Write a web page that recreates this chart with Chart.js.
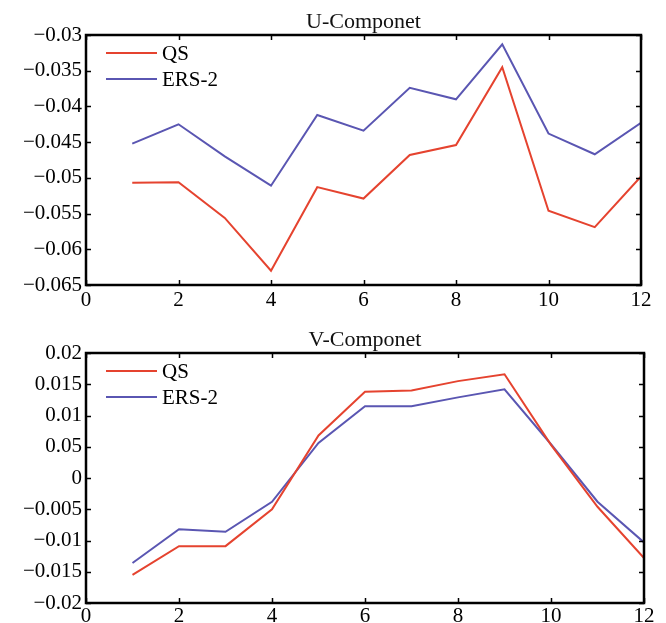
<!DOCTYPE html>
<html>
<head>
<meta charset="utf-8">
<script src="https://cdn.jsdelivr.net/npm/chart.js@4/dist/chart.umd.min.js"></script>
<style>
  html, body { margin: 0; padding: 0; background: #fff; }
  #wrap { position: relative; width: 666px; height: 623px; }
  #wrap canvas { position: absolute; left: 0; }
</style>
</head>
<body>
<div id="wrap">
  <canvas id="uChart" width="666" height="312" style="top:0"></canvas>
  <canvas id="vChart" width="666" height="311" style="top:312px"></canvas>
</div>
<script>
const months = [1, 2, 3, 4, 5, 6, 7, 8, 9, 10, 11, 12];

// U component
const uQS = [-0.0507, -0.0506, -0.0556, -0.0630, -0.0513, -0.0529, -0.0468, -0.0454, -0.0345, -0.0546, -0.0569, -0.0498];
const uERS = [-0.0452, -0.0425, -0.0470, -0.0511, -0.0412, -0.0434, -0.0374, -0.0390, -0.0313, -0.0438, -0.0467, -0.0423];
const uTickLabels = ["\u22120.065", "\u22120.06", "\u22120.055", "\u22120.05", "\u22120.045", "\u22120.04", "\u22120.035", "\u22120.03"];

// V component
const vQS = [-0.0155, -0.0109, -0.0109, -0.0050, 0.0068, 0.0138, 0.0140, 0.0155, 0.0166, 0.0053, -0.0046, -0.0128];
const vERS = [-0.0136, -0.0082, -0.0086, -0.0038, 0.0056, 0.0115, 0.0115, 0.0129, 0.0142, 0.0054, -0.0038, -0.0103];
const vTickLabels = ["\u22120.02", "\u22120.015", "\u22120.01", "\u22120.005", "0", "0.05", "0.01", "0.015", "0.02"];

const xTickLabels = ["0", "2", "4", "6", "8", "10", "12"];

const RED = "#e5432f";
const BLUE = "#5a56b2";
const FONT = "'Liberation Serif', 'DejaVu Serif', serif";

// box around the plot area with short ticks pointing inwards, title over the box, inset legend
const framePlugin = {
  id: "frame",
  afterDraw(chart, args, opts) {
    const { ctx, chartArea: a, scales } = chart;
    ctx.save();
    ctx.strokeStyle = "#000";
    ctx.lineWidth = 1.5;
    const len = 5;
    ctx.beginPath();
    scales.x.ticks.forEach((t) => {
      const px = Math.round(scales.x.getPixelForValue(t.value)) + 0.5;
      ctx.moveTo(px, a.bottom); ctx.lineTo(px, a.bottom - len);
      ctx.moveTo(px, a.top); ctx.lineTo(px, a.top + len);
    });
    scales.y.ticks.forEach((t) => {
      const py = Math.round(scales.y.getPixelForValue(t.value)) + 0.5;
      ctx.moveTo(a.left, py); ctx.lineTo(a.left + len, py);
      ctx.moveTo(a.right, py); ctx.lineTo(a.right - len, py);
    });
    ctx.stroke();
    ctx.lineWidth = 2.5;
    ctx.strokeRect(a.left, a.top, a.right - a.left, a.bottom - a.top);

    // title
    ctx.fillStyle = "#111";
    ctx.font = "22px " + FONT;
    ctx.textAlign = "center";
    ctx.textBaseline = "alphabetic";
    ctx.fillText(opts.text, (a.left + a.right) / 2, a.top - opts.titleGap);

    // legend
    const rows = [18, 44];
    ctx.font = "21px " + FONT;
    ctx.textAlign = "left";
    ctx.textBaseline = "middle";
    ctx.fillStyle = "#000";
    chart.data.datasets.forEach((ds, i) => {
      const y = a.top + rows[i];
      ctx.strokeStyle = ds.borderColor;
      ctx.lineWidth = 2;
      ctx.beginPath();
      ctx.moveTo(a.left + 20, y);
      ctx.lineTo(a.left + 71, y);
      ctx.stroke();
      ctx.fillText(ds.label, a.left + 76, y + 1);
    });
    ctx.restore();
  },
};

function makeChart(id, title, qs, ers, yMin, yMax, yLabels, opts) {
  const toPoints = (arr) => months.map((m, i) => ({ x: m, y: arr[i] }));
  return new Chart(document.getElementById(id), {
    type: "line",
    data: {
      datasets: [
        { label: "QS", data: toPoints(qs), borderColor: RED, borderWidth: 2, pointRadius: 0, tension: 0, fill: false },
        { label: "ERS-2", data: toPoints(ers), borderColor: BLUE, borderWidth: 2, pointRadius: 0, tension: 0, fill: false },
      ],
    },
    options: {
      responsive: false,
      animation: false,
      layout: { padding: { left: 0, right: opts.right, top: opts.top, bottom: 0 } },
      plugins: {
        legend: { display: false },
        tooltip: { enabled: false },
        title: { display: false },
        frame: { text: title, titleGap: 7 },
      },
      scales: {
        x: {
          type: "linear",
          min: 0,
          max: 12,
          grid: { display: false, drawTicks: false, tickLength: 0 },
          border: { display: false },
          afterFit: (scale) => { scale.height = opts.xHeight; },
          ticks: {
            stepSize: 2,
            padding: opts.xPad,
            color: "#000",
            font: { family: FONT, size: 21 },
            callback: (v, i) => xTickLabels[i],
          },
        },
        y: {
          min: yMin,
          max: yMax,
          grid: { display: false, drawTicks: false, tickLength: 0 },
          border: { display: false },
          afterFit: (scale) => { scale.width = 86; },
          ticks: {
            stepSize: 0.005,
            padding: 4,
            color: "#000",
            font: { family: FONT, size: 21 },
            callback: (v, i) => yLabels[i],
          },
        },
      },
    },
    plugins: [framePlugin],
  });
}

makeChart("uChart", "U-Componet", uQS, uERS, -0.065, -0.03, uTickLabels,
  { right: 25, top: 35, xHeight: 27, xPad: 3 });
makeChart("vChart", "V-Componet", vQS, vERS, -0.02, 0.02, vTickLabels,
  { right: 22, top: 41, xHeight: 20, xPad: 1 });
</script>
</body>
</html>
